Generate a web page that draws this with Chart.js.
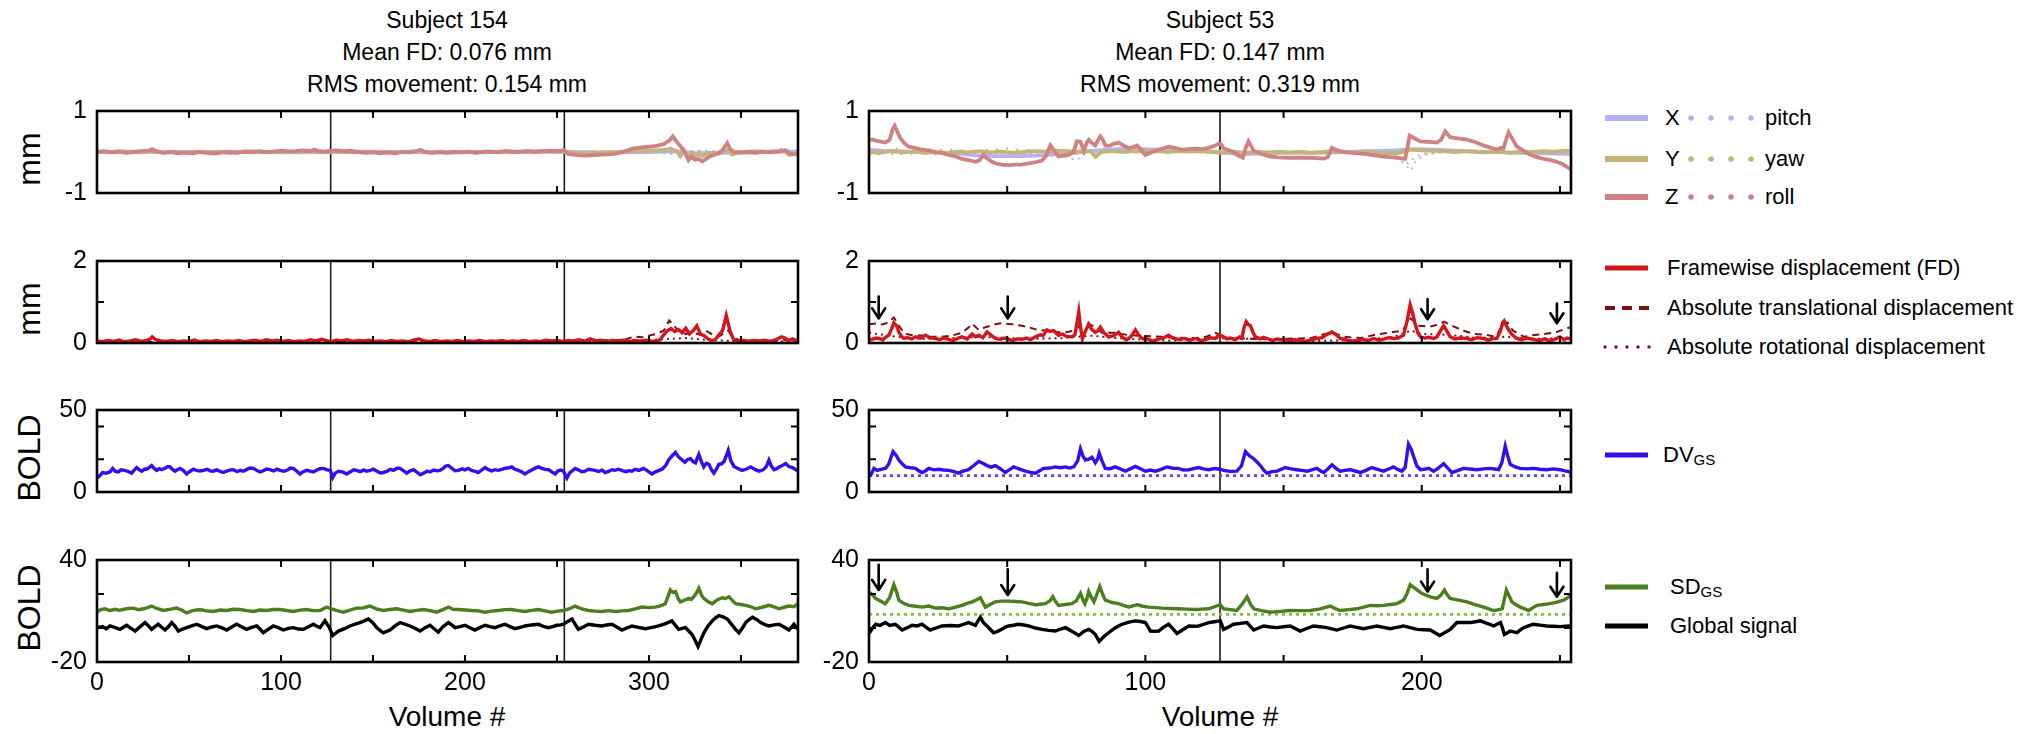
<!DOCTYPE html>
<html><head><meta charset="utf-8">
<script src="https://cdn.jsdelivr.net/npm/chart.js@4.4.1/dist/chart.umd.min.js"></script>
<style>
html,body{margin:0;padding:0;background:#fff}
body{width:2028px;height:734px;overflow:hidden;position:relative;font-family:"Liberation Sans",Arial,Helvetica,sans-serif;color:#000}
canvas{position:absolute}
.title{position:absolute;text-align:center;font-size:23px;line-height:32px;white-space:nowrap;transform:translateX(-50%)}
.ylab{position:absolute;font-size:32px;line-height:1;white-space:nowrap;transform:translate(-50%,-50%) rotate(-90deg)}
.xlab{position:absolute;font-size:28px;line-height:1;white-space:nowrap;transform:translateX(-50%)}
.lg{position:absolute;font-size:22px;line-height:22px;white-space:nowrap}
.lg sub{font-size:15px;vertical-align:-3px;line-height:0}
</style></head><body>

<div class="title" style="left:447px;top:4px">Subject 154<br>Mean FD: 0.076 mm<br>RMS movement: 0.154 mm</div>
<div class="title" style="left:1220px;top:4px">Subject 53<br>Mean FD: 0.147 mm<br>RMS movement: 0.319 mm</div>

<div class="ylab" style="left:29px;top:159px">mm</div>
<div class="ylab" style="left:29px;top:309px">mm</div>
<div class="ylab" style="left:29px;top:458px">BOLD</div>
<div class="ylab" style="left:29px;top:608px">BOLD</div>

<div class="xlab" style="left:447px;top:703px">Volume #</div>
<div class="xlab" style="left:1220px;top:703px">Volume #</div>

<svg style="position:absolute;left:0;top:0" width="2028" height="734">
  <line x1="1605" y1="118" x2="1648" y2="118" stroke="#b3b3f3" stroke-width="6"/>
  <circle cx="1691" cy="118" r="2.8" fill="#b3b3f3"/><circle cx="1711" cy="118" r="2.8" fill="#b3b3f3"/><circle cx="1731" cy="118" r="2.8" fill="#b3b3f3"/><circle cx="1751" cy="118" r="2.8" fill="#b3b3f3"/>
  <line x1="1605" y1="159" x2="1648" y2="159" stroke="#c5b479" stroke-width="6"/>
  <circle cx="1691" cy="159" r="2.8" fill="#c5b479"/><circle cx="1711" cy="159" r="2.8" fill="#c5b479"/><circle cx="1731" cy="159" r="2.8" fill="#c5b479"/><circle cx="1751" cy="159" r="2.8" fill="#c5b479"/>
  <line x1="1605" y1="197" x2="1648" y2="197" stroke="#cf8282" stroke-width="6"/>
  <circle cx="1691" cy="197" r="2.8" fill="#cf8282"/><circle cx="1711" cy="197" r="2.8" fill="#cf8282"/><circle cx="1731" cy="197" r="2.8" fill="#cf8282"/><circle cx="1751" cy="197" r="2.8" fill="#cf8282"/>
  <line x1="1605" y1="268" x2="1648" y2="268" stroke="#d3161b" stroke-width="5"/>
  <line x1="1605" y1="308" x2="1650" y2="308" stroke="#7d1010" stroke-width="4" stroke-dasharray="10 7"/>
  <circle cx="1605" cy="347" r="1.7" fill="#7d1010"/><circle cx="1616" cy="347" r="1.7" fill="#7d1010"/><circle cx="1627" cy="347" r="1.7" fill="#7d1010"/><circle cx="1638" cy="347" r="1.7" fill="#7d1010"/><circle cx="1649" cy="347" r="1.7" fill="#7d1010"/>
  <line x1="1605" y1="455" x2="1648" y2="455" stroke="#3010f0" stroke-width="5"/>
  <line x1="1605" y1="587" x2="1648" y2="587" stroke="#4b7f1e" stroke-width="5"/>
  <line x1="1605" y1="626" x2="1648" y2="626" stroke="#000" stroke-width="5"/>
</svg>
<div class="lg" style="left:1665px;top:107px">X</div><div class="lg" style="left:1765px;top:107px">pitch</div>
<div class="lg" style="left:1665px;top:148px">Y</div><div class="lg" style="left:1765px;top:148px">yaw</div>
<div class="lg" style="left:1665px;top:186px">Z</div><div class="lg" style="left:1765px;top:186px">roll</div>
<div class="lg" style="left:1667px;top:257px">Framewise displacement (FD)</div>
<div class="lg" style="left:1667px;top:297px">Absolute translational displacement</div>
<div class="lg" style="left:1667px;top:336px">Absolute rotational displacement</div>
<div class="lg" style="left:1663px;top:444px">DV<sub>GS</sub></div>
<div class="lg" style="left:1670px;top:576px">SD<sub>GS</sub></div>
<div class="lg" style="left:1670px;top:615px">Global signal</div>

<script>
// ---------------- DATA ----------------
// Tick labels
const xTickLabels154 = [0, 100, 200, 300];
const xTickLabels53 = [0, 100, 200];
const xMinorTicks154 = [50, 100, 150, 200, 250, 300, 350];
const xMinorTicks53 = [50, 100, 150, 200, 250];
const runBoundaries154 = [127, 254];
const runBoundaries53 = [127];
const yTickLabelsMotion = [-1, 1];
const yTickLabelsFD = [0, 2];
const yTickLabelsDV = [0, 50];
const yTickLabelsSD = [-20, 40];
const yMinorMotion = [];
const yMinorFD = [1];
const yMinorDV = [20, 40];
const yMinorSD = [0, 20];
const nVolumes154 = 381;
const nVolumes53 = 254;

// Subject 154 — [volume, value]
const s154_z = [[0,0],[4,0.02],[8,-0.01],[12,0.01],[16,-0.02],[20,0],[24,0.02],[28,0.03],[30,0.07],[32,0.02],[36,-0.02],[40,0],[44,-0.03],[48,-0.01],[52,-0.03],[56,0],[60,-0.02],[64,-0.04],[68,-0.01],[72,0],[76,-0.02],[80,0.01],[84,-0.01],[88,0.02],[92,0],[96,0.01],[100,0.03],[104,0.01],[108,0.02],[112,0.04],[116,0.02],[118,0.06],[120,0.03],[124,0],[127,0.02],[130,0.04],[134,0.02],[138,0.03],[142,0],[146,-0.02],[150,0],[154,-0.03],[158,-0.01],[162,-0.03],[166,0],[170,-0.01],[174,0.03],[176,0.05],[178,0.01],[182,-0.02],[186,0],[190,-0.02],[194,0],[198,-0.01],[202,0.01],[206,-0.02],[210,0],[214,0.01],[218,-0.01],[222,0.02],[226,0],[230,0.01],[234,0.02],[238,0],[242,0.02],[246,0.03],[250,0.02],[254,0.04],[256,-0.05],[260,-0.07],[264,-0.09],[268,-0.08],[272,-0.07],[276,-0.06],[280,-0.05],[284,-0.02],[288,0.03],[291,0.08],[296,0.11],[300,0.13],[304,0.15],[308,0.19],[311,0.28],[313,0.38],[315,0.25],[317,0.15],[319.5,0],[321.5,-0.2],[323,-0.12],[325,-0.19],[327,-0.17],[329,-0.23],[331,-0.17],[333,-0.11],[336,-0.06],[338,-0.03],[340,0.05],[342.5,0.22],[344,0.08],[346,0.0],[350,-0.01],[354,0.0],[358,-0.02],[362,0.01],[366,-0.01],[370,0.01],[374,0.04],[376,-0.03],[378,-0.05],[381,-0.05]];
const s154_y = [[0,0.01],[6,-0.01],[12,0.02],[18,0],[24,-0.01],[30,0.03],[36,-0.01],[42,0.01],[48,-0.02],[54,0.01],[60,-0.01],[66,0.01],[72,-0.02],[78,0],[84,0.02],[90,-0.01],[96,0.01],[102,0.02],[108,0],[114,0.03],[120,0.01],[127,0.02],[133,0.01],[139,-0.01],[145,0.01],[151,-0.02],[157,0],[163,-0.01],[169,0.01],[175,0.02],[181,-0.01],[187,0.01],[193,-0.01],[199,0.01],[205,-0.01],[211,0.01],[217,0],[223,0.02],[229,0],[235,0.01],[241,0.02],[247,0.01],[254,0.02],[260,-0.02],[266,-0.03],[272,-0.02],[278,-0.01],[284,0],[290,0.02],[296,0.03],[302,0.04],[308,0.05],[312,0.08],[315,0.02],[317,-0.1],[319,0.04],[321,-0.12],[323,-0.02],[325,-0.14],[327,-0.05],[329,-0.1],[332,-0.04],[336,-0.02],[340,0.01],[343,0.05],[345,-0.06],[348,-0.02],[352,0],[358,0.02],[364,0],[370,0.02],[374,0.03],[376,-0.07],[378,-0.06],[381,-0.03]];
const s154_x = [[0,0],[20,0.01],[40,-0.01],[60,0],[80,0.01],[100,-0.01],[127,0],[150,0.01],[180,-0.01],[210,0],[240,0.01],[254,0],[280,-0.01],[300,0],[315,0.02],[325,-0.03],[340,-0.02],[360,0],[381,0.01]];
const s154_pitch = [[0,0.02],[15,-0.02],[30,0.03],[45,-0.01],[60,0.02],[75,-0.02],[90,0.01],[105,-0.03],[120,0.02],[135,-0.01],[150,0.02],[165,-0.02],[180,0.03],[195,-0.02],[210,0.01],[225,-0.02],[240,0.02],[255,-0.03],[270,0.03],[285,-0.02],[300,0.03],[310,-0.04],[320,0.05],[330,-0.06],[345,0.04],[360,-0.03],[372,0.08],[381,0.02]];
const s154_yaw = [[0,-0.01],[18,0.02],[36,-0.02],[54,0.01],[72,-0.02],[90,0.02],[108,-0.01],[127,0.02],[146,-0.02],[164,0.01],[182,-0.02],[200,0.02],[218,-0.01],[236,0.02],[254,-0.02],[272,0.02],[290,-0.02],[305,0.03],[315,-0.06],[325,0.04],[338,-0.04],[352,0.03],[368,-0.02],[381,0.04]];
const s154_roll = [[0,0.01],[25,-0.01],[50,0.02],[75,-0.01],[100,0.01],[127,-0.01],[152,0.02],[177,-0.01],[202,0.01],[227,-0.02],[254,0.01],[280,-0.02],[300,0.02],[318,-0.04],[330,0.03],[350,-0.02],[381,0.01]];
const s154_fd = [[0,0.05],[3,0.03],[6,0.06],[9,0.04],[12,0.07],[15,0.03],[18,0.05],[21,0.08],[24,0.04],[27,0.06],[29,0.1],[30,0.15],[32,0.08],[35,0.05],[38,0.04],[41,0.06],[44,0.03],[47,0.05],[50,0.04],[53,0.07],[56,0.03],[59,0.05],[62,0.04],[65,0.06],[68,0.03],[71,0.05],[74,0.04],[77,0.06],[80,0.03],[83,0.05],[86,0.07],[89,0.04],[92,0.08],[95,0.05],[98,0.07],[101,0.04],[104,0.06],[107,0.03],[110,0.05],[113,0.04],[116,0.08],[119,0.05],[122,0.09],[125,0.06],[127,0.03],[130,0.07],[133,0.05],[136,0.08],[139,0.04],[142,0.06],[145,0.05],[148,0.07],[151,0.04],[154,0.05],[157,0.03],[160,0.06],[163,0.04],[166,0.05],[169,0.03],[172,0.07],[175,0.1],[178,0.05],[181,0.04],[184,0.06],[187,0.03],[190,0.05],[193,0.04],[196,0.06],[199,0.03],[202,0.05],[205,0.04],[208,0.06],[211,0.03],[214,0.05],[217,0.04],[220,0.06],[223,0.03],[226,0.05],[229,0.04],[232,0.06],[235,0.03],[238,0.05],[241,0.04],[244,0.07],[247,0.05],[250,0.06],[253,0.04],[256,0.06],[259,0.05],[262,0.08],[265,0.04],[268,0.1],[271,0.05],[274,0.07],[277,0.04],[280,0.06],[283,0.05],[286,0.07],[289,0.04],[292,0.06],[295,0.05],[298,0.07],[301,0.05],[304,0.04],[306,0.08],[308,0.2],[310,0.3],[312,0.35],[314,0.28],[316,0.33],[318,0.25],[320,0.36],[322,0.22],[324,0.3],[326,0.42],[328,0.22],[330,0.18],[332,0.1],[334,0.06],[336,0.08],[338,0.2],[340,0.3],[342,0.67],[344,0.3],[346,0.08],[348,0.05],[351,0.07],[354,0.04],[357,0.06],[360,0.05],[363,0.07],[366,0.04],[369,0.08],[372,0.15],[374,0.12],[376,0.06],[378,0.1],[381,0.04]];
const s154_absTrans = [[0,0.02],[20,0.03],[40,0.02],[60,0.03],[80,0.02],[100,0.03],[120,0.04],[140,0.03],[160,0.02],[180,0.03],[200,0.02],[220,0.03],[240,0.04],[260,0.06],[270,0.08],[280,0.06],[288,0.1],[292,0.16],[296,0.14],[300,0.18],[304,0.22],[308,0.3],[311,0.55],[313,0.45],[316,0.3],[320,0.22],[324,0.25],[328,0.2],[331,0.3],[334,0.22],[338,0.16],[343,0.3],[346,0.12],[350,0.06],[360,0.05],[370,0.06],[381,0.08]];
const s154_absRot = [[0,0.01],[50,0.02],[100,0.015],[150,0.02],[200,0.015],[250,0.02],[290,0.04],[310,0.1],[320,0.12],[330,0.08],[345,0.05],[381,0.03]];
const s154_dv = [[0,8.5],[1,9.3],[3,11.9],[5,11.5],[7,12.2],[8.5,14.4],[10,12.5],[11.6,12.2],[13,13.5],[15,13.2],[17,12.5],[18.8,11.5],[20,13],[21.6,14.9],[23,13.5],[24.3,12.7],[26,14],[27,13.9],[28.5,15],[29.7,16.1],[31,14.5],[32.4,13.2],[34,14.2],[35.1,13.6],[37,14.5],[38.5,15.5],[39.7,15.3],[41,13.8],[42.4,12.7],[44,13.8],[45.1,14.4],[47,13],[48.7,11],[50.5,12.5],[52.4,13.9],[54,13.2],[56,12.8],[57.8,13.2],[60,13.8],[61.5,12.9],[63.2,12.7],[65,13.5],[67,12.6],[68.7,11.9],[70.5,12.8],[72.5,13.5],[74.1,13.6],[76,12.5],[78,13.2],[79.5,12.7],[81.5,13.8],[83,14.6],[85,14.4],[86.8,13.2],[88.6,12.2],[90.5,13],[92,14],[94,13.6],[96,12.8],[97.8,13.9],[99.5,13.2],[101.5,12.6],[103.5,13.4],[105,14.6],[106.7,14.4],[108.5,12.8],[110.3,11],[112,12.4],[114,13.2],[115.8,12.7],[117.5,12.2],[119.5,13.4],[121.2,14.2],[123,14.4],[125,13.5],[126.8,13.2],[128.1,8.8],[129.5,11.5],[131.2,12.7],[133.5,12.2],[135.7,11],[137.5,12.2],[139.5,13.5],[141.1,13.2],[143,12.4],[145,13.5],[146.5,12.7],[148.5,13.2],[150.2,13.9],[152,12.8],[154,11.6],[155.6,11.9],[157.5,12.6],[159.5,13.8],[161.1,13.2],[163,14.5],[164.7,14.4],[166.5,13],[168.3,11.5],[170,12.8],[172,13.6],[174,12],[175.6,10.5],[177.5,11.5],[179.5,12.8],[181,12.2],[183,13.4],[185,12.9],[186.4,13.2],[188,14.2],[189.5,15.8],[191,16.1],[193,14.3],[194.5,13],[196.4,13.2],[198.5,14.1],[200,13.5],[201.8,14.4],[203.5,13.2],[205.5,12.6],[207.2,11.9],[209,13.4],[210.9,14.9],[212.5,13.8],[214.5,12.9],[216.3,13.6],[218.1,13.2],[220,13.8],[222,14.5],[224,14.8],[225.4,15.3],[227,13.9],[229,13.2],[231,12.2],[232.6,11],[234.5,12.4],[236.5,13.5],[238.5,14.7],[239.9,15.3],[241.5,14.6],[243.5,13.8],[245.4,13.6],[247,12.4],[249,11],[250.5,12.8],[252,13.4],[253.5,12.7],[255.4,8.5],[257,11.8],[259.9,14.4],[261.5,13.5],[263.5,12.3],[265.3,12.7],[267,13.8],[269,13.5],[270.8,13.2],[272.5,12.5],[274.5,13.3],[276.2,11.9],[278,12.6],[280,13.6],[281.5,13.2],[283.5,13.9],[285.5,13.1],[287.5,12.4],[289,13],[290.7,12.7],[292.5,13.8],[294.5,13.2],[297.1,14.4],[299,13],[301.6,11],[303.5,12.3],[305.5,13.2],[307.1,13.9],[309,16],[310.7,19.5],[312.5,22],[314.4,24.1],[316,21.5],[318,19.5],[319.5,18.2],[321,19.8],[322.6,20.3],[324,18.5],[325.3,17.8],[326.2,20.5],[327.1,22.9],[328.5,18.5],[329.8,15.3],[331.2,17.5],[332.6,16.9],[334,13.5],[335.3,11.5],[336.8,14.2],[338,16.9],[339.5,17.2],[340.8,18.6],[342,22],[343.1,25.4],[344.5,19],[346.2,15.6],[348.5,14.2],[350.7,13.2],[353,14],[355.3,15.3],[357.5,13.8],[359.8,12.7],[362,13.5],[363.8,15.5],[365.2,19.5],[366.5,15.8],[368,13.6],[369.5,14.2],[370.7,15.3],[372.5,16.2],[374.3,17.3],[376,15.5],[378,14.9],[379.5,13.8],[381,12.7]];
const s154_sd = [[0,9.3],[2,10.8],[4.3,11.3],[7.1,10.3],[10,11],[12,10.4],[14.3,10.9],[17,11.5],[19.8,11.7],[22.5,10.8],[25.2,11.3],[27.5,12],[29.7,12.9],[32.5,11.5],[36.1,10.3],[39.5,11],[43.3,11.7],[46,10.6],[48.7,8.9],[52,10.2],[56,10.9],[59.5,10.1],[63.2,9.7],[67,10.6],[70.5,10.3],[74,11],[77.7,10.9],[81.5,10.2],[85,9.7],[88.5,10.6],[92.2,10.3],[96,10.9],[99.5,10.9],[103,10.3],[106.7,9.7],[110.5,10.5],[114,10.9],[117.5,10.2],[121.2,10.3],[124.8,12.3],[127.5,11.3],[130.5,10.2],[133.9,9.3],[137.5,10.5],[141.1,11.7],[144.5,11.8],[148.4,12.9],[151.8,11.3],[155.6,10.3],[159.2,10.9],[162.9,11.3],[166.5,10.5],[170.1,9.7],[173.8,10.4],[177.4,10.9],[181,10.2],[184.6,9.3],[188,10.8],[191,12.3],[193.5,11],[196.4,10.9],[200,10.6],[203.6,10.3],[207.2,10.1],[210.9,9.3],[214.5,9.9],[218.1,10.3],[221.7,10.8],[225.4,10.9],[229,10.2],[232.6,9.7],[236.2,10.4],[239.9,10.9],[243.5,10.1],[247.1,9.3],[250.5,9.9],[253.5,10.3],[256.5,11.2],[259.9,12.9],[263.5,11.2],[267.1,10.3],[270.7,9.9],[274.4,9.7],[278,10.2],[281.6,9.7],[285.3,10.1],[288.9,10.3],[292.5,11.2],[296.1,12.3],[299.8,12],[303.4,12.3],[306.2,13],[308.9,14.3],[310.5,19],[311.6,22.4],[313,21],[314.4,21.4],[316,17],[317.1,15.4],[319.5,16.5],[321.6,17.4],[323,16.8],[324.4,18.4],[326,21],[327.1,23.4],[328.5,19.5],[329.8,17.4],[332,15.6],[334.4,14.3],[337,16.5],[339.9,17.8],[341.5,17.4],[343.5,18.4],[345.5,16],[347.1,14.3],[350,13.8],[352.6,13.3],[355.5,12.5],[358,11.3],[361.5,12.2],[365.2,13.3],[368,12.4],[370.7,11.3],[373.5,12.2],[376.1,12.9],[378.8,12.5],[381,14.3]];
const s154_gs = [[0,0.2],[3,0.8],[5,-0.4],[7.1,1.2],[10,0.2],[12.5,-0.8],[14.5,0.6],[16.1,1.6],[18.5,-0.2],[20.7,-1.8],[23.5,0.8],[26.1,3.2],[28,1.2],[29.7,-0.8],[31.5,0.8],[33.3,2.2],[35,0.6],[37,-1.2],[39,1],[40.6,3.2],[42.5,1],[44.2,-1.8],[46.5,-0.6],[48.7,0.2],[51.5,1.2],[54.2,2.2],[57,0.8],[59.6,-0.4],[62.5,0.6],[65,1.2],[67.7,0.2],[70.5,-1.2],[73.2,0.6],[75.9,2.2],[78.5,0.8],[81.3,-0.8],[84,0.4],[86.8,1.2],[88.6,-0.6],[90.4,-2.8],[93,-0.8],[95.8,1.2],[98.5,0.2],[101.3,-1.2],[104,-0.2],[106.7,0.2],[109.5,-0.6],[112.1,-0.8],[115,0.8],[117.6,2.2],[119.5,1],[121.2,0.2],[123.9,4.2],[126.3,0.2],[128.1,-4.4],[129.8,-3],[131.2,-1.8],[134.5,-0.4],[137.5,1.2],[140,2.2],[142.9,3.2],[145.3,4.2],[147.5,5.3],[150,3],[152,0.2],[153.8,-1.4],[155.6,-2.8],[157.5,-2],[159.2,-1.2],[162,1.2],[164.7,3.2],[167.5,2.2],[170.1,1.2],[172.8,-0.2],[175.6,-1.8],[178.3,0.2],[181,1.6],[183.2,-0.4],[185.5,-2.4],[188,0.8],[191,3.2],[192.8,1.8],[194.6,0.2],[197.3,0.8],[200,1.6],[202.7,0.2],[205.4,-1.2],[208,0.2],[210.9,1.6],[213.6,0.8],[216.3,0.2],[219,1.2],[221.7,2.2],[224.5,0.8],[227.2,-0.4],[230,0.4],[232.6,1.2],[236.2,1.8],[239.9,2.2],[242.6,1],[245.4,0.2],[247.6,0.8],[249.9,1.6],[252,1.8],[253.5,2.2],[255.8,3.8],[258.2,5.3],[260,2],[261.6,-0.8],[264.3,0.6],[267.1,2.2],[270.7,1.6],[274.4,1.2],[277,1.8],[279.8,2.2],[282.5,0.6],[285.3,-1.2],[288,0],[290.7,1.2],[294.3,0.4],[298,-0.4],[301.7,0.4],[305.3,1.2],[309,2.6],[312.5,4.2],[314.4,1.5],[316.2,-0.8],[318,-0.2],[319.8,0.2],[321.6,-1.8],[323.4,-3.8],[325,-7],[326.7,-10.9],[328.2,-7],[329.8,-2.8],[332,1],[334.4,4.2],[336,5.8],[338,7.3],[340.3,6.5],[342.6,5.3],[345,2],[347.1,-0.8],[348.9,-2.8],[350.8,0],[352.6,3.2],[354.4,5],[356.2,6.3],[358.5,5],[360.7,3.2],[363,2],[365.2,1.2],[368,1.8],[370.7,2.2],[373.4,0.6],[376.1,-1.2],[378.8,2.2],[381,-0.8]];

// Subject 53 — [volume, value]
const s53_z = [[0,0.3],[1.1,0.3],[3,0.27],[5.9,0.23],[7.5,0.3],[8.5,0.55],[9.3,0.64],[10.2,0.5],[11.4,0.33],[13,0.2],[14.4,0.13],[16.5,0.1],[19.2,0.06],[21.5,0.04],[24,0],[26.5,-0.03],[28.8,-0.07],[31,-0.1],[33.6,-0.17],[36,-0.2],[38.5,-0.24],[40,-0.2],[41.5,-0.07],[42.5,-0.15],[44.5,-0.24],[46,-0.28],[48,-0.31],[50.5,-0.32],[53,-0.31],[55.5,-0.3],[57.8,-0.28],[60,-0.25],[62.6,-0.21],[64,-0.1],[65.6,0.16],[66.8,0.05],[68.6,-0.11],[70.5,-0.09],[72.2,-0.07],[74,0],[75.2,0.26],[76.5,0.25],[77.7,0.03],[78.6,0.2],[79.5,0.3],[80.7,0.22],[81.9,0.16],[82.8,0.28],[83.7,0.38],[84.6,0.3],[85.5,0.16],[87,0.15],[88.5,0.2],[90.3,0.23],[92,0.16],[94,0.09],[95.5,0.12],[97,0.16],[98.5,0.05],[100,-0.07],[101.8,-0.02],[103.6,0.03],[106,0.08],[108.4,0.13],[110.5,0.1],[113.2,0.06],[115.5,0.07],[118,0.08],[120.5,0.07],[122.9,0.1],[125,0.15],[126.5,0.2],[127.5,0.18],[128.3,0.09],[130,0.05],[131.9,0],[133.5,-0.08],[135.3,-0.14],[136.3,0.1],[137.3,0.26],[138.2,0.15],[139.2,0.03],[142,-0.05],[145.2,-0.11],[148,-0.13],[152.4,-0.14],[156,-0.14],[159.7,-0.14],[162,-0.15],[164.5,-0.16],[166,-0.12],[167.5,0.1],[169,0.05],[171.7,0],[175,-0.02],[180.2,-0.05],[183,-0.08],[186.2,-0.11],[189.5,-0.13],[192,-0.15],[194,-0.17],[194.8,0.1],[195.6,0.4],[197.5,0.33],[199.5,0.26],[202,0.25],[204,0.24],[205.5,0.23],[207,0.3],[208.5,0.5],[209.5,0.42],[210.3,0.36],[213,0.33],[216.3,0.3],[219,0.25],[222.4,0.16],[225,0.1],[227.2,0.06],[228.5,0.1],[229.6,0.09],[230.5,0.3],[231.4,0.48],[232.5,0.35],[234.4,0.13],[237,0.02],[239.3,-0.07],[241.5,-0.12],[244.1,-0.17],[246.5,-0.2],[248.9,-0.24],[251,-0.3],[252.5,-0.36],[254,-0.43]];
const s53_y = [[0,0],[4,-0.02],[8,0.02],[12,-0.01],[16,0.01],[20,-0.02],[24,0],[28,-0.02],[32,0.01],[36,-0.01],[40,0.02],[44,-0.01],[48,0.01],[52,-0.02],[56,0],[60,0.02],[64,0.01],[68,0.03],[72,0.02],[76,0],[80,0.03],[82,-0.12],[84,0],[88,0.02],[92,0],[96,0.02],[100,0.01],[104,0.02],[108,0],[112,0.02],[116,0.01],[120,0.02],[124,0],[128,-0.02],[132,0.01],[136,-0.02],[140,0],[144,-0.01],[148,0.01],[152,-0.01],[156,0.01],[160,-0.02],[164,0],[168,0.02],[172,0],[176,-0.01],[180,0.01],[184,-0.02],[188,-0.03],[192,-0.02],[196,0.06],[200,0.04],[204,0.03],[208,0.02],[212,0],[216,0.02],[220,0],[224,-0.01],[228,0.01],[232,-0.02],[236,0.01],[240,0],[244,0.02],[248,0.01],[252,0.03],[254,0.02]];
const s53_x = [[0,0.05],[5,0.03],[10,0.02],[15,0.01],[20,0],[25,-0.01],[30,-0.03],[35,-0.06],[40,-0.09],[45,-0.1],[50,-0.1],[55,-0.1],[60,-0.09],[65,-0.07],[70,-0.04],[75,-0.02],[80,0.02],[85,0.05],[90,0.07],[95,0.08],[100,0.07],[105,0.06],[110,0.04],[115,0.03],[120,0.02],[127,0],[130,-0.03],[135,-0.05],[140,-0.04],[145,-0.03],[150,-0.02],[160,-0.02],[170,-0.01],[180,0.02],[190,0.04],[195,0.06],[200,0.07],[205,0.06],[210,0.04],[220,0.01],[230,-0.01],[240,-0.03],[250,-0.04],[254,-0.05]];
const s53_pitch = [[0,0],[10,0.02],[20,0],[30,-0.02],[40,-0.05],[50,-0.08],[60,-0.08],[70,-0.1],[75,-0.2],[78,-0.05],[85,0.02],[95,0.05],[105,0.03],[115,0.01],[127,0],[140,-0.02],[160,-0.01],[180,0],[190,-0.05],[194,-0.3],[196,-0.45],[198,-0.2],[202,-0.05],[210,0],[230,-0.02],[254,-0.04]];
const s53_yaw = [[0,-0.08],[2,0.07],[4,-0.1],[6,0.06],[8,-0.09],[10,0.08],[12,-0.07],[14,0.05],[16,-0.09],[18,0.06],[20,-0.08],[22,0.07],[24,-0.06],[26,0.05],[28,-0.07],[30,0.06],[32,-0.05],[34,0.07],[36,-0.06],[38,0.08],[40,-0.05],[42,0.09],[44,-0.04],[46,0.08],[48,-0.05],[50,0.09],[52,-0.04],[54,0.08],[56,-0.03],[58,0.07],[60,-0.02],[64,0.05],[68,0.02],[72,-0.02],[78,0.03],[84,-0.03],[90,0.02],[100,0],[110,0.02],[120,-0.01],[127,0.01],[140,-0.02],[160,0.01],[180,-0.02],[190,-0.05],[193,-0.2],[195,-0.28],[197,-0.15],[200,-0.05],[210,0.02],[230,-0.01],[254,0.01]];
const s53_roll = [[0,0.05],[10,0.02],[20,-0.02],[30,0],[40,-0.03],[50,0.01],[60,-0.02],[70,0.02],[80,0.05],[90,0.01],[100,-0.02],[110,0.02],[127,0.03],[140,-0.02],[160,0],[180,-0.02],[195,0.05],[205,0.02],[220,0],[240,-0.03],[254,-0.02]];
const s53_fd = [[0,0.08],[1.1,0.09],[2.5,0.12],[3.6,0.11],[5,0.08],[6,0.14],[7.2,0.19],[8.2,0.35],[9,0.49],[10,0.42],[10.8,0.26],[11.8,0.16],[12.6,0.11],[14,0.13],[15.5,0.1],[16.8,0.15],[18.5,0.12],[20.4,0.19],[22,0.13],[24,0.11],[25.5,0.08],[27,0.12],[28.8,0.09],[30.5,0.06],[32,0.11],[33.6,0.15],[35.5,0.1],[37.3,0.22],[38.5,0.15],[39.7,0.19],[41.2,0.13],[42.7,0.27],[44,0.2],[45.7,0.11],[47.5,0.09],[49,0.12],[50.5,0.09],[52,0.06],[53.5,0.1],[55.4,0.09],[57,0.12],[58.5,0.08],[60.2,0.15],[62,0.2],[63,0.18],[64.4,0.32],[65.5,0.28],[66.8,0.3],[68.6,0.19],[70,0.22],[71.5,0.16],[73.4,0.15],[74.5,0.2],[75.4,0.55],[75.9,0.76],[76.5,0.4],[77.2,0.1],[77.7,0.19],[78.7,0.35],[79.5,0.46],[80.5,0.34],[81.9,0.26],[82.8,0.3],[83.7,0.39],[85,0.25],[86.7,0.15],[88.5,0.18],[90.3,0.26],[91.5,0.15],[93,0.08],[94,0.11],[95,0.18],[96.4,0.32],[97.5,0.2],[99,0.1],[100,0.12],[101.5,0.08],[102.5,0.04],[103.6,0.07],[105,0.1],[106.5,0.12],[108.4,0.19],[110,0.12],[112,0.09],[114,0.11],[116,0.07],[118,0.11],[120,0.06],[122,0.09],[123.5,0.13],[125.3,0.11],[126.5,0.19],[128,0.16],[129.5,0.1],[130.7,0.12],[132.5,0.08],[134,0.15],[134.9,0.12],[135.8,0.4],[136.5,0.52],[137.2,0.45],[138,0.42],[139,0.25],[139.8,0.15],[141.5,0.1],[142.8,0.14],[144,0.11],[146,0.06],[147.5,0.1],[149,0.08],[150,0.09],[152,0.05],[154,0.08],[156,0.07],[158,0.04],[160,0.08],[162,0.11],[164,0.13],[165.5,0.2],[167.5,0.27],[169,0.2],[170.5,0.11],[172.5,0.08],[174.5,0.05],[176.5,0.05],[178.5,0.09],[180.5,0.06],[182.6,0.11],[184.5,0.07],[186.5,0.1],[188,0.13],[189.8,0.11],[191.5,0.12],[193.4,0.19],[194.6,0.5],[195.8,0.93],[196.8,0.7],[197.6,0.46],[198.6,0.25],[199.5,0.15],[201,0.12],[202.5,0.14],[204.3,0.11],[205.5,0.15],[206.8,0.3],[207.9,0.42],[209,0.3],[210.3,0.15],[212,0.1],[213.8,0.12],[216.3,0.11],[218,0.08],[220,0.13],[222.4,0.11],[224,0.07],[225.5,0.1],[227.2,0.11],[228.5,0.3],[229.3,0.5],[229.8,0.54],[230.8,0.4],[232,0.26],[233,0.18],[234.4,0.11],[236,0.08],[238,0.12],[240.4,0.09],[242.5,0.06],[244.5,0.1],[246.4,0.05],[248,0.09],[250,0.15],[251.5,0.08],[252.5,0.12],[254,0.1]];
const s53_absTrans = [[0,0.46],[3,0.48],[5,0.45],[7,0.5],[9,0.62],[11,0.4],[13,0.22],[16,0.19],[19,0.18],[22,0.15],[26,0.15],[30,0.18],[33.6,0.25],[36,0.38],[37.3,0.47],[39.7,0.32],[42,0.38],[45.7,0.46],[48,0.48],[51.7,0.46],[55.4,0.42],[58,0.38],[61,0.32],[65,0.3],[70,0.25],[74,0.3],[77,0.45],[79,0.48],[81,0.42],[84.3,0.25],[89,0.25],[94,0.19],[100,0.17],[106,0.15],[112,0.13],[118,0.12],[122,0.15],[125.3,0.25],[127,0.2],[130,0.12],[140,0.1],[150,0.1],[160,0.12],[165,0.22],[168,0.25],[172,0.15],[178,0.12],[183,0.2],[188,0.25],[193,0.3],[196,0.6],[199,0.42],[203,0.4],[206,0.45],[208,0.52],[211,0.42],[215,0.3],[219,0.22],[223,0.2],[227,0.15],[229,0.45],[231,0.5],[233,0.3],[237,0.15],[240,0.19],[244,0.22],[248,0.25],[251,0.32],[254,0.39]];
const s53_absRot = [[0,0.25],[5,0.2],[10,0.15],[20,0.1],[30,0.12],[40,0.15],[50,0.12],[60,0.1],[70,0.12],[80,0.18],[90,0.12],[100,0.08],[110,0.06],[120,0.1],[127,0.12],[140,0.1],[160,0.05],[180,0.08],[190,0.15],[196,0.3],[200,0.22],[210,0.2],[220,0.12],[230,0.15],[240,0.1],[254,0.12]];
const s53_dv = [[0,10.2],[0.6,10.2],[1.8,14.4],[3,13.2],[4.7,13.9],[6,14.5],[7.1,16.9],[8.7,24.6],[10,22],[10.8,19.5],[12,17.2],[13.2,15.3],[15,14.8],[16.8,14.4],[18,13],[19.2,11.9],[20.5,13],[21.6,14.4],[23.5,13.5],[25.2,13.9],[27,13.4],[28.8,13.2],[30.5,12.6],[32.4,11.5],[34,12.8],[36,13.6],[37.8,16],[39.7,18.6],[41.2,17.5],[42.7,16.1],[44.2,15.2],[45.7,16.1],[47.5,14.2],[49.3,11.9],[51,13.8],[52.3,15.3],[54.5,14],[56.6,12.7],[58.5,12],[60.2,11.5],[62,13.2],[63.2,14.4],[65.5,14.6],[67.4,15.3],[69.3,14.8],[71.1,15.3],[72.6,14.6],[74.1,15.3],[75.5,19],[76.5,26.3],[77.4,22],[78.3,19.5],[79.5,20],[80.7,21.2],[81.9,17.8],[82.7,20],[83.3,23.7],[84.3,19],[85.5,14.4],[87.3,14.2],[89.1,15.3],[91,14],[92.7,12.7],[94.5,14.1],[96.4,15.6],[98.2,14.2],[100,12.7],[101.8,13.4],[103.6,12.7],[105.7,13.8],[107.8,15.3],[110,14.5],[112,14.4],[113.8,13.4],[115.7,13.6],[117.5,14.3],[119.3,14.9],[121,14.1],[122.9,13.6],[125,14.3],[127,13.9],[128.3,13.2],[130.7,12.6],[133.1,12.7],[134.8,16],[136.2,24.6],[137.7,22],[139.2,20.3],[140.4,18.2],[141.6,16.1],[142.8,13.4],[144,11.5],[145.8,12.4],[147.6,12.7],[149.1,13.8],[150.6,14.9],[152.7,14.1],[154.8,13.6],[156.6,13.2],[158.5,12.7],[160.2,13.5],[162,14.4],[163.3,13],[164.5,11.9],[166,14],[167.5,16.6],[169,14.4],[170.5,12.7],[172.3,13.2],[174.1,13.6],[175.9,12.8],[177.7,11.9],[179.8,13.2],[181.9,14.9],[184,13.8],[186.2,12.7],[188,14],[189.8,15.3],[191.3,13.8],[192.8,12.7],[194,15],[195.2,29.2],[196.2,26],[197,22],[198.2,16],[199.5,13.6],[201,13.9],[202.5,14.4],[204.3,12.7],[206,14.5],[207.9,17.3],[209.4,14.6],[210.9,11.9],[213,13],[215.1,14.4],[217.5,14],[219.9,13.6],[222.3,14.1],[224.8,14.4],[226.3,14],[227.8,13.6],[229,18],[230.2,28],[231.1,22],[232,16.9],[233.8,15.3],[235.6,14.4],[238,14.1],[240.4,14.4],[242.8,13.9],[245.2,13.6],[247.6,14.1],[250,13.6],[251.8,12.9],[254,12.2]];
const s53_sd = [[0,20.4],[0.6,20.4],[1.5,19],[2.4,17.4],[4,16],[5.9,14.3],[7.5,18],[9,25.5],[10,21],[10.8,16.4],[12.5,14.5],[14.4,13.3],[16.8,12.8],[19.2,12.3],[21.6,12.9],[24,11.7],[26.4,11.9],[28.8,11.3],[31.2,12.2],[33.6,13.3],[35.5,14.5],[37.3,15.4],[38.8,16.5],[40.3,17.8],[41.2,15],[42.1,12.3],[44,14],[45.7,15.4],[48,15.8],[50.5,15.8],[53,15.6],[55.4,15.4],[57.8,14.5],[60.2,13.7],[62,14],[63.8,14.3],[65.5,16],[66.5,18.4],[67.5,15.5],[68.6,13.3],[71,13.8],[73.4,14.3],[75,16],[76.5,20.4],[77.3,17],[78.1,14.3],[79,18],[79.5,21.4],[80.5,18],[81.4,15.4],[82.5,20],[83.5,24.4],[84.5,20],[85.5,16.4],[88,15],[90.3,14.3],[92,13.3],[94,12.3],[95.5,13],[97,13.7],[99,12.8],[101.2,12.3],[103.6,12],[106,11.7],[109,11.5],[112,11.3],[115,11.1],[118,10.9],[120.5,11.1],[122.9,11.3],[125,12.5],[127.1,13.7],[128.3,11.3],[130.7,10.8],[133.1,10.3],[135,14],[136.8,18.4],[138,14],[139.2,11.3],[142,10.2],[145.2,9.3],[148.8,9.8],[152.4,10.3],[156,10.2],[159.7,10.3],[163.3,11.2],[166.9,12.9],[168.7,11.4],[170.5,10.3],[173.5,10.8],[176.5,11.3],[179,12.3],[181.4,13.3],[183.8,13.1],[186.2,13.3],[188.6,13.8],[191,14.3],[193.4,16.4],[194.6,20],[195.8,25.5],[197,24],[198.3,22.4],[199.8,20.5],[201.3,19.4],[203.4,18.2],[205.5,17.4],[207,19.5],[208.2,22.4],[209.2,19.5],[210.3,17.4],[213.3,16.4],[216.3,15.4],[219.3,13.8],[222.4,12.3],[224.2,11.3],[226,10.3],[227.5,10.7],[229.1,11.3],[229.9,17],[230.6,22.4],[231.6,19],[232.6,15.4],[234,13.8],[235.6,12.3],[237.2,11.3],[238.7,10.3],[240.2,12],[241.7,13.3],[244,13.8],[246.4,14.3],[248.9,15.2],[251.3,16.4],[253,18],[254,19.4]];
const s53_gs = [[0,-3],[0.6,-1.8],[1.5,0.5],[2.4,2.2],[4,1.5],[5.9,3.2],[7.5,1.5],[9.5,2.2],[10.8,0.5],[12,-1.2],[13.8,0.2],[15.6,1.6],[17.4,1.2],[19.2,2.2],[20.6,0.5],[22.1,-1.2],[24.2,0],[26.4,1.2],[29.4,1.5],[32.4,1.2],[34.2,2.2],[36,3.2],[37.3,2.4],[38.5,1.6],[39.4,4],[40.3,6.3],[41.5,3],[42.7,1.2],[44,-1],[45.1,-2.8],[46.5,-2],[48,-0.8],[49.3,0.5],[50.5,1.2],[52.3,1.6],[54,2.2],[56,1.8],[57.8,1.2],[60.2,0],[62.6,-0.8],[65,-1.4],[67.4,-1.8],[69.3,-0.6],[71.1,0.2],[73.5,-2],[75.9,-4.4],[77.7,-2],[79.5,-0.8],[80.7,-2],[81.9,-3.8],[83.3,-7.9],[85,-5],[86.7,-2.8],[89,0],[91.5,2.2],[94,3.5],[96.4,4.2],[98.2,3.8],[100,3.2],[101,0.5],[101.8,-1.8],[103.3,-2],[104.8,-1.8],[106.6,0.5],[108.4,2.2],[110,-0.5],[111.4,-3.2],[113.5,-1],[115.7,1.2],[117.5,1],[119.3,1.2],[121.1,2.2],[122.9,3.2],[125,3.7],[127.1,4.2],[128.3,-0.8],[130.1,0.6],[131.9,2.2],[134.3,2.7],[136.8,3.2],[138,1],[139.2,-1.2],[141,0],[142.8,1.2],[145.2,0.6],[147.6,0.2],[150,0.7],[152.4,1.2],[154.2,-0.3],[156,-1.8],[158.4,-0.3],[160.8,1.2],[163.2,0.7],[165.6,0.2],[167.5,-0.5],[169.3,-1.2],[171.7,0],[174.1,1.2],[176.5,0.4],[178.9,-0.4],[181.3,0.4],[183.8,1.2],[186.2,0.4],[188.6,-0.4],[191,0.4],[193.4,1.2],[195.8,0.2],[198.3,-0.8],[200.7,-1],[203.1,-1.2],[204.8,-2.8],[206.5,-4.4],[208.4,-2.6],[210.3,-0.8],[211.5,1.2],[212.7,3.2],[215.1,3.2],[217.6,3.2],[219.4,3.7],[221.2,4.2],[223.6,2.7],[226,1.2],[227.2,2.2],[228.5,3.2],[229.2,0],[229.9,-3.8],[231,-2.8],[232,-1.8],[233.2,-2.3],[234.4,-2.8],[235.6,-1.3],[236.8,0.2],[238.6,1.2],[240.4,2.2],[242.8,1.7],[245.2,1.2],[247.6,1],[250,0.8],[251.9,1],[254,1.2]];
const s53_dvThreshold = 10;
const s53_sdThreshold = 8;
// Arrows in Subject 53 (volume, start value, tip value)
const s53_arrowVols = [3.5, 50.2, 202.1, 248.9];
const s53_fdArrowTop = [1.13, 1.13, 1.07, 0.96];
const s53_fdArrowTip = [0.6, 0.6, 0.58, 0.48];
const s53_sdArrowTop = [37.2, 34.5, 34.5, 32.5];
const s53_sdArrowTip = [22.4, 19.4, 21.4, 18.4];

// ---------------- STYLE / LAYOUT ----------------
Chart.defaults.font.family = "'Liberation Sans', Arial, Helvetica, sans-serif";
Chart.defaults.color = '#000';
const C = {x:'#b3b3f3', y:'#c5b479', z:'#cf8282', fd:'#d3161b', abs:'#7d1010', dv:'#3010f0', dvTh:'#4a4aff', sd:'#4b7f1e', sdTh:'#80c040', gs:'#000'};
const FH = 107;
const ROW_TOPS = [106, 256, 405, 555];
const COLS = {
  s154: {left:97, width:701, xMax:nVolumes154, labels:xTickLabels154, minor:xMinorTicks154, runs:runBoundaries154},
  s53: {left:869, width:702, xMax:nVolumes53, labels:xTickLabels53, minor:xMinorTicks53, runs:runBoundaries53}
};
const ROWS = [
  {min:-1, max:1, labels:yTickLabelsMotion, minor:yMinorMotion},
  {min:0, max:2, labels:yTickLabelsFD, minor:yMinorFD},
  {min:0, max:50, labels:yTickLabelsDV, minor:yMinorDV},
  {min:-20, max:40, labels:yTickLabelsSD, minor:yMinorSD}
];

const P = a => a.map(([x, y]) => ({x, y}));
function ds(arr, color, width, dash) {
  return {data:P(arr), borderColor:color, borderWidth:width, borderDash:dash || [], pointRadius:0, fill:false, tension:0};
}
function hline(val, xMax, color) {
  return {data:[{x:0, y:val}, {x:xMax, y:val}], borderColor:color, borderWidth:2.6, borderDash:[3,4], pointRadius:0, fill:false};
}

const decoPlugin = {
  id:'panelDeco',
  beforeDatasetsDraw(chart, args, o) {
    const {ctx, chartArea:{top, bottom}, scales:{x}} = chart;
    ctx.save(); ctx.strokeStyle = '#1a1a1a'; ctx.lineWidth = 1.6;
    (o.runs || []).forEach(v => { const px = x.getPixelForValue(v); ctx.beginPath(); ctx.moveTo(px, top); ctx.lineTo(px, bottom); ctx.stroke(); });
    ctx.restore();
  },
  afterDatasetsDraw(chart, args, o) {
    const {ctx, chartArea:{left, right, top, bottom}, scales:{x, y}} = chart;
    ctx.save();
    ctx.strokeStyle = '#000'; ctx.lineWidth = 2; const TL = 7;
    (o.xMinor || []).forEach(v => { const px = x.getPixelForValue(v); ctx.beginPath(); ctx.moveTo(px, top); ctx.lineTo(px, top + TL); ctx.moveTo(px, bottom); ctx.lineTo(px, bottom - TL); ctx.stroke(); });
    (o.yMinor || []).forEach(v => { const py = y.getPixelForValue(v); ctx.beginPath(); ctx.moveTo(left, py); ctx.lineTo(left + TL, py); ctx.moveTo(right, py); ctx.lineTo(right - TL, py); ctx.stroke(); });
    ctx.lineWidth = 2.6; ctx.strokeRect(left, top, right - left, bottom - top);
    if (o.arrows) {
      const a = o.arrows; ctx.lineWidth = 2.6; ctx.lineCap = 'round'; ctx.lineJoin = 'round';
      a.vols.forEach((v, i) => {
        const px = x.getPixelForValue(v), y0 = y.getPixelForValue(a.tops[i]), y1 = y.getPixelForValue(a.tips[i]);
        ctx.beginPath(); ctx.moveTo(px, y0); ctx.lineTo(px, y1);
        ctx.moveTo(px - 6.5, y1 - 10); ctx.lineTo(px, y1); ctx.lineTo(px + 6.5, y1 - 10); ctx.stroke();
      });
    }
    ctx.restore();
  }
};

function makePanel(colKey, rowIdx, datasets, arrows) {
  const col = COLS[colKey], row = ROWS[rowIdx];
  const PL = 80, PT = 20, PR = 20, PB = rowIdx === 3 ? 50 : 20;
  const W = col.width + PL + PR, H = FH + PT + PB;
  const c = document.createElement('canvas');
  c.width = W; c.height = H;
  c.style.left = (col.left - PL) + 'px'; c.style.top = (ROW_TOPS[rowIdx] - PT) + 'px';
  c.style.width = W + 'px'; c.style.height = H + 'px';
  document.body.appendChild(c);
  new Chart(c, {
    type:'line',
    data:{datasets},
    options:{
      responsive:false, animation:false, devicePixelRatio:1,
      layout:{padding:{left:0, top:PT, right:PR, bottom: rowIdx === 3 ? 0 : PB}},
      plugins:{legend:{display:false}, tooltip:{enabled:false},
        panelDeco:{runs:col.runs, xMinor:col.minor, yMinor:row.minor, arrows}},
      scales:{
        x:{type:'linear', min:0, max:col.xMax, display: rowIdx === 3,
          grid:{display:false, drawTicks:false}, border:{display:false},
          afterBuildTicks: s => { s.ticks = col.labels.map(v => ({value:v})); },
          afterFit: s => { s.height = PB; },
          ticks:{font:{size:25}, color:'#000', padding:6, maxRotation:0, autoSkip:false}},
        y:{type:'linear', min:row.min, max:row.max,
          grid:{display:false, drawTicks:false}, border:{display:false},
          afterBuildTicks: s => { s.ticks = row.labels.map(v => ({value:v})); },
          afterFit: s => { s.width = PL; },
          ticks:{font:{size:25}, color:'#000', padding:10, autoSkip:false}}
      }
    },
    plugins:[decoPlugin]
  });
}

const dotted = [2,5];
// Subject 154
makePanel('s154', 0, [ds(s154_z, C.z, 3.8), ds(s154_y, C.y, 3.8), ds(s154_x, C.x, 3.8), ds(s154_roll, C.z, 2, dotted), ds(s154_yaw, C.y, 2, dotted), ds(s154_pitch, C.x, 2, dotted)]);
makePanel('s154', 1, [ds(s154_fd, C.fd, 3.4), ds(s154_absTrans, C.abs, 2, [7,5]), ds(s154_absRot, C.abs, 2, [2,4])]);
makePanel('s154', 2, [ds(s154_dv, C.dv, 3.4)]);
makePanel('s154', 3, [ds(s154_sd, C.sd, 3.4), ds(s154_gs, C.gs, 3.4)]);
// Subject 53
makePanel('s53', 0, [ds(s53_z, C.z, 3.8), ds(s53_y, C.y, 3.8), ds(s53_x, C.x, 3.8), ds(s53_roll, C.z, 2, dotted), ds(s53_yaw, C.y, 2, dotted), ds(s53_pitch, C.x, 2, dotted)]);
makePanel('s53', 1, [ds(s53_fd, C.fd, 3.4), ds(s53_absTrans, C.abs, 2, [7,5]), ds(s53_absRot, C.abs, 2, [2,4])],
  {vols:s53_arrowVols, tops:s53_fdArrowTop, tips:s53_fdArrowTip});
makePanel('s53', 2, [ds(s53_dv, C.dv, 3.4), hline(s53_dvThreshold, nVolumes53, C.dvTh)]);
makePanel('s53', 3, [ds(s53_sd, C.sd, 3.4), ds(s53_gs, C.gs, 3.4), hline(s53_sdThreshold, nVolumes53, C.sdTh)],
  {vols:s53_arrowVols, tops:s53_sdArrowTop, tips:s53_sdArrowTip});
</script>
</body></html>
